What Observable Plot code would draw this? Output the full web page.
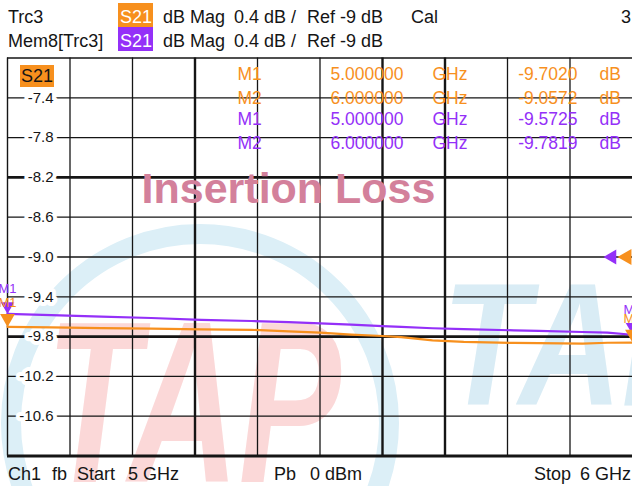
<!DOCTYPE html>
<html><head><meta charset="utf-8">
<script src="https://cdn.jsdelivr.net/npm/d3@7"></script>
<script src="https://cdn.jsdelivr.net/npm/@observablehq/plot@0.6"></script>
<style>
html,body{margin:0;padding:0;background:#fff;}
#wrap{position:relative;width:632px;height:486px;overflow:hidden;font-family:"Liberation Sans",Arial,sans-serif;}
#wm{position:absolute;left:0;top:0;}
#head,#foot{position:relative;display:block;}
#head text,#foot text{font-family:"Liberation Sans",Arial,sans-serif;font-size:18px;fill:#151515;white-space:pre;}
#chart{position:relative;height:402px;}
#s21{position:absolute;left:20px;top:65px;width:34px;height:22px;background:#f7901e;color:#151515;font-size:18px;line-height:22px;text-align:center;}
</style></head><body>
<div id="wrap">
<svg id="wm" width="632" height="486">
  <circle cx="200" cy="423" r="189" fill="none" stroke="#dceff7" stroke-width="20"/>
  <text x="46" y="482" font-family="Liberation Sans, Arial, sans-serif" font-size="230" font-weight="bold" font-style="italic" fill="#fbd8d8" textLength="295" lengthAdjust="spacingAndGlyphs">TAP</text>
  <text x="442" y="405" font-family="Liberation Sans, Arial, sans-serif" font-size="175" font-weight="bold" font-style="italic" fill="#d9ecf5" textLength="275" lengthAdjust="spacingAndGlyphs">TAP</text>
</svg>
<svg id="head" width="632" height="56">
  <text x="8" y="22.5">Trc3</text>
  <rect x="118" y="3" width="35" height="24" fill="#f7901e"/>
  <text x="120" y="22.5" style="fill:#fff">S21</text>
  <text x="163" y="22.5">dB Mag</text>
  <text x="234" y="22.5">0.4 dB /</text>
  <text x="307" y="22.5">Ref -9 dB</text>
  <text x="411" y="22.5">Cal</text>
  <text x="631" y="22.5" text-anchor="end">3</text>
  <text x="8" y="46.5">Mem8[Trc3]</text>
  <rect x="118" y="27" width="35" height="24" fill="#9430f8"/>
  <text x="120" y="46.5" style="fill:#fff">S21</text>
  <text x="163" y="46.5">dB Mag</text>
  <text x="234" y="46.5">0.4 dB /</text>
  <text x="307" y="46.5">Ref -9 dB</text>
</svg>
<div id="chart"></div>
<svg id="foot" width="632" height="28">
  <text x="8" y="22">Ch1</text>
  <text x="52" y="22">fb</text>
  <text x="77" y="22">Start</text>
  <text x="128" y="22">5 GHz</text>
  <text x="274" y="22">Pb</text>
  <text x="310" y="22">0 dBm</text>
  <text x="534" y="22">Stop</text>
  <text x="631" y="22" text-anchor="end">6 GHz</text>
</svg>
<div id="s21">S21</div>
</div>
<script>
// ---- data ----
const freqGHz = [5.00, 5.07, 5.15, 5.23, 5.31, 5.39, 5.45, 5.50, 5.55, 5.60, 5.63, 5.68, 5.73, 5.81, 5.85, 5.92, 5.96, 6.00];
const trc3Db  = [-9.702, -9.708, -9.715, -9.720, -9.727, -9.732, -9.747, -9.760, -9.780, -9.794, -9.806, -9.837, -9.854, -9.864, -9.866, -9.870, -9.862, -9.860];
const mem8Db  = [-9.572, -9.585, -9.600, -9.613, -9.632, -9.643, -9.655, -9.668, -9.680, -9.694, -9.703, -9.716, -9.725, -9.737, -9.742, -9.754, -9.760, -9.782];

const xGridGHz = [5.1, 5.2, 5.3, 5.4, 5.5, 5.6, 5.7, 5.8, 5.9];
const yTickDb  = [-7.4, -7.8, -8.2, -8.6, -9.0, -9.4, -9.8, -10.2, -10.6];
const thickXGHz = [5.3, 5.6, 5.7];
const thickYDb  = [-8.2, -9.8];
const refLevelDb = -9;

const markerNames   = ["M1", "M2", "M1", "M2"];
const markerTraces  = ["Trc3", "Trc3", "Mem8", "Mem8"];
const markerFreqGHz = [5, 6, 5, 6];
const markerValDb   = [-9.7020, -9.0572, -9.5725, -9.7819];
const chartLabel = "Insertion Loss";

// ---- styling ----
const ORANGE = "#f7901e", PURPLE = "#9430f8", INK = "#151515";
const FONT = "Liberation Sans, Arial, sans-serif";

const trc3 = freqGHz.map((f, i) => ({f, v: trc3Db[i]}));
const mem8 = freqGHz.map((f, i) => ({f, v: mem8Db[i]}));
const ends = (arr) => [arr[0], arr[arr.length - 1]];

const rows = markerNames.map((m, i) => ({
  name: m, trace: markerTraces[i], f: markerFreqGHz[i], v: markerValDb[i],
  color: markerTraces[i] === "Trc3" ? ORANGE : PURPLE
}));
const rowDy = [16.5, 40.5, 61.5, 85.5];
const tableMarks = rows.flatMap((r, i) => {
  const base = {frameAnchor: "top-left", dy: rowDy[i], fill: r.color, fontSize: 17.5, fontFamily: FONT, lineAnchor: "middle"};
  return [
    Plot.text([r], {...base, text: d => d.name, dx: 230, textAnchor: "start"}),
    Plot.text([r], {...base, text: d => d.f.toFixed(6), dx: 323, textAnchor: "start"}),
    Plot.text([r], {...base, text: () => "GHz", dx: 425, textAnchor: "start"}),
    Plot.text([r], {...base, text: d => d.v.toFixed(4), dx: 570, textAnchor: "end"}),
    Plot.text([r], {...base, text: () => "dB", dx: 592, textAnchor: "start"})
  ];
});

const chart = Plot.plot({
  width: 632, height: 402,
  marginTop: 1.5, marginBottom: 2.5, marginLeft: 7, marginRight: 0,
  x: {domain: [5, 6], axis: null},
  y: {domain: [-11, -7], axis: null},
  style: {background: "none", fontFamily: FONT},
  marks: [
    Plot.ruleX(xGridGHz.filter(d => !thickXGHz.includes(d)), {stroke: INK, strokeWidth: 1.3}),
    Plot.ruleX(thickXGHz, {stroke: INK, strokeWidth: 2.4}),
    Plot.ruleY(yTickDb.filter(d => !thickYDb.includes(d)), {stroke: INK, strokeWidth: 1.3}),
    Plot.ruleY(thickYDb, {stroke: INK, strokeWidth: 2.6}),
    Plot.ruleX([5], {stroke: INK, strokeWidth: 1.4}),
    Plot.ruleY([-7], {stroke: INK, strokeWidth: 1.3}),
    Plot.ruleY([-11], {stroke: INK, strokeWidth: 3}),
    Plot.text(yTickDb, {y: d => d, text: d => d.toFixed(1), frameAnchor: "left", dx: 46, textAnchor: "end",
      fontSize: 15, fontFamily: FONT, fill: INK, stroke: "white", strokeWidth: 8, paintOrder: "stroke", strokeLinejoin: "round"}),
    Plot.text([chartLabel], {frameAnchor: "top-left", dx: 281, dy: 114.5, text: d => d, textAnchor: "middle",
      fontSize: 43, fontWeight: "bold", fontFamily: FONT, fill: "#d3809b"}),
    ...tableMarks,
    Plot.line(mem8, {x: "f", y: "v", stroke: PURPLE, strokeWidth: 2.2}),
    Plot.line(trc3, {x: "f", y: "v", stroke: ORANGE, strokeWidth: 2.2}),
    // trace markers M1 / M2 at the trace ends
    Plot.dot(ends(mem8), {x: "f", y: "v", symbol: "triangle", rotate: 180, r: 5, dy: -7.8, fill: PURPLE, stroke: "none"}),
    Plot.dot(ends(trc3), {x: "f", y: "v", symbol: "triangle", rotate: 180, r: 5.5, dy: -8.5, fill: ORANGE, stroke: "none"}),
    Plot.text(ends(mem8), {x: "f", y: "v", text: (d, i) => i === 0 ? "M1" : "M2", dy: -25, fontSize: 13, fill: PURPLE, fontFamily: FONT}),
    Plot.text(ends(trc3), {x: "f", y: "v", text: (d, i) => i === 0 ? "M1" : "M2", dy: -24, fontSize: 13, fill: ORANGE, fontFamily: FONT}),
    // reference level markers
    Plot.dot([refLevelDb], {y: d => d, frameAnchor: "right", dx: -20.5, symbol: "triangle", rotate: -90, r: 5.5, fill: PURPLE, stroke: "none"}),
    Plot.dot([refLevelDb], {y: d => d, frameAnchor: "right", dx: -5.7, symbol: "triangle", rotate: -90, r: 6, fill: ORANGE, stroke: "none"})
  ]
});
document.getElementById("chart").append(chart);
</script>
</body></html>
